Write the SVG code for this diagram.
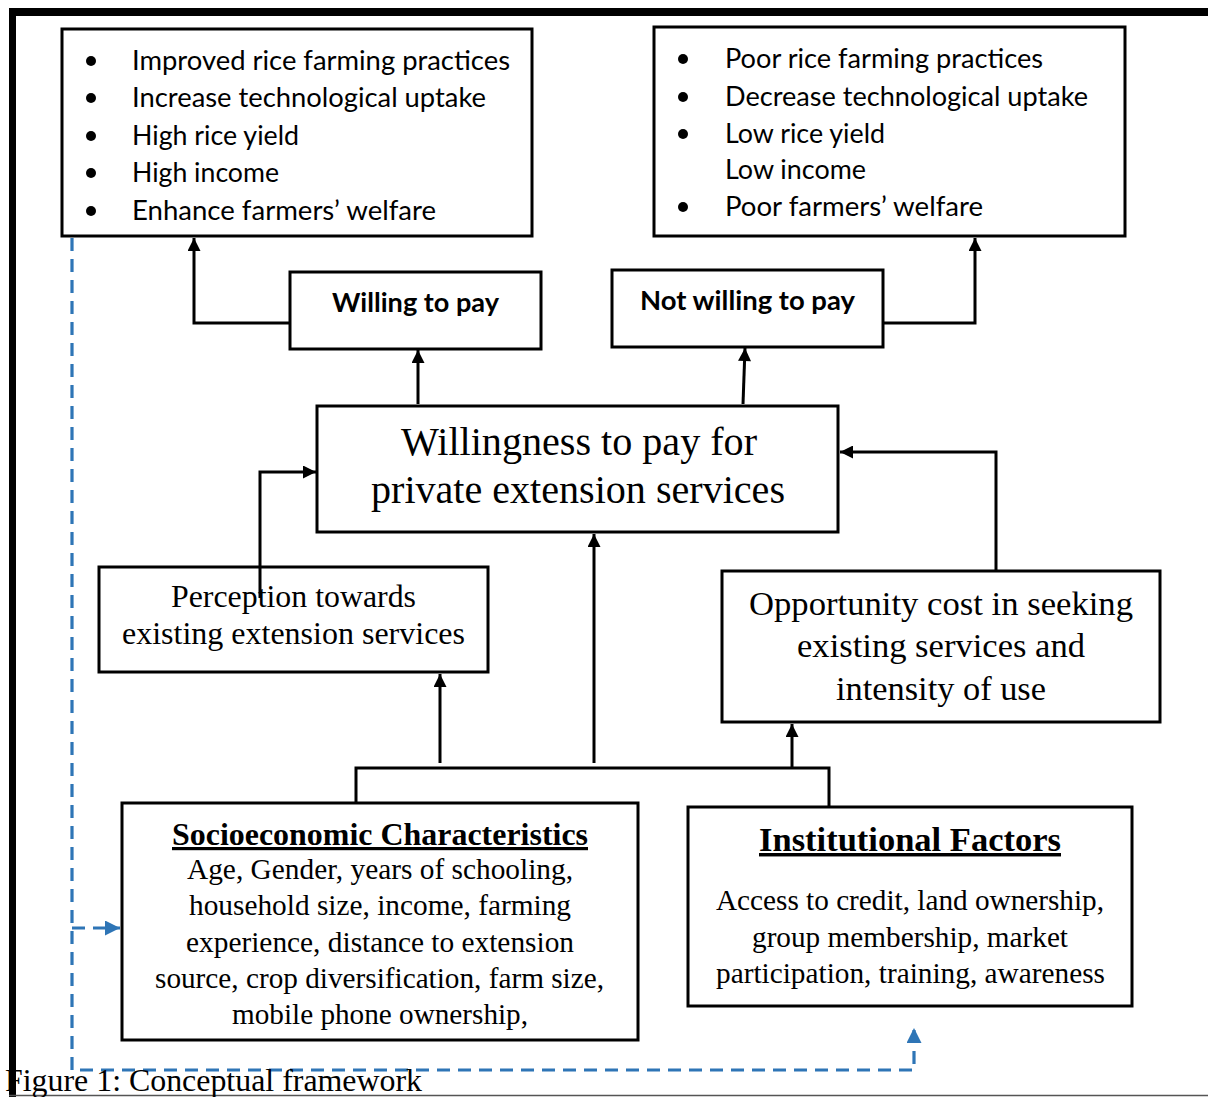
<svg xmlns="http://www.w3.org/2000/svg" width="1208" height="1097" viewBox="0 0 1208 1097">
<style>
.box{fill:#fff;stroke:#000;stroke-width:3}
.sans{font-family:Lato,"Open Sans","Liberation Sans",sans-serif;font-size:27px;fill:#000}
.sb{font-family:Lato,"Open Sans","Liberation Sans",sans-serif;font-size:27px;font-weight:bold;fill:#000}
.serif{font-family:"Liberation Serif","Times New Roman",serif;fill:#000}
.c{text-anchor:middle}
.conn{fill:none;stroke:#000;stroke-width:3}
.dash{fill:none;stroke:#2E75B6;stroke-width:3.2;stroke-dasharray:13 8}
</style>
<defs>
<marker id="ah" viewBox="0 0 10 10" refX="10" refY="5" markerWidth="15" markerHeight="13" markerUnits="userSpaceOnUse" orient="auto"><path d="M0,0 L10,5 L0,10 z" fill="#000"/></marker>
<marker id="bh" viewBox="0 0 10 10" refX="10" refY="5" markerWidth="16" markerHeight="15" markerUnits="userSpaceOnUse" orient="auto"><path d="M0,0 L10,5 L0,10 z" fill="#2E75B6"/></marker>
</defs>
<rect width="1208" height="1097" fill="#fff"/>
<g id="frame">
<rect x="9" y="8" width="1199" height="8" fill="#000"/>
<rect x="9" y="8" width="7" height="1089" fill="#000"/>
<line x1="9" y1="1095.5" x2="1208" y2="1095.5" stroke="#555" stroke-width="1.5"/>
</g>
<g id="outcomes-willing">
<rect class="box" x="62" y="29" width="470" height="207"/>
<circle cx="91" cy="61" r="5"/><circle cx="91" cy="98" r="5"/><circle cx="91" cy="136" r="5"/><circle cx="91" cy="173" r="5"/><circle cx="91" cy="211" r="5"/>
<text class="sans" x="132" y="70" textLength="378" lengthAdjust="spacingAndGlyphs">Improved rice farming practices</text>
<text class="sans" x="132" y="107" textLength="354" lengthAdjust="spacingAndGlyphs">Increase technological uptake</text>
<text class="sans" x="132" y="145" textLength="167" lengthAdjust="spacingAndGlyphs">High rice yield</text>
<text class="sans" x="132" y="182" textLength="147" lengthAdjust="spacingAndGlyphs">High income</text>
<text class="sans" x="132" y="220" textLength="304" lengthAdjust="spacingAndGlyphs">Enhance farmers’ welfare</text>
</g>
<g id="outcomes-not-willing">
<rect class="box" x="654" y="27" width="471" height="209"/>
<circle cx="683" cy="59" r="5"/><circle cx="683" cy="97" r="5"/><circle cx="683" cy="134" r="5"/><circle cx="683" cy="207" r="5"/>
<text class="sans" x="725" y="68" textLength="318" lengthAdjust="spacingAndGlyphs">Poor rice farming practices</text>
<text class="sans" x="725" y="106" textLength="363" lengthAdjust="spacingAndGlyphs">Decrease technological uptake</text>
<text class="sans" x="725" y="143" textLength="160" lengthAdjust="spacingAndGlyphs">Low rice yield</text>
<text class="sans" x="725" y="179" textLength="141" lengthAdjust="spacingAndGlyphs">Low income</text>
<text class="sans" x="725" y="216" textLength="258" lengthAdjust="spacingAndGlyphs">Poor farmers’ welfare</text>
</g>
<g id="willing">
<rect class="box" x="290" y="272" width="251" height="77"/>
<text class="sb c" x="415.5" y="312" textLength="167" lengthAdjust="spacingAndGlyphs">Willing to pay</text>
</g>
<g id="not-willing">
<rect class="box" x="612" y="270" width="271" height="77"/>
<text class="sb c" x="747.5" y="310" textLength="215" lengthAdjust="spacingAndGlyphs">Not willing to pay</text>
</g>
<g id="wtp">
<rect class="box" x="317" y="406" width="521" height="126"/>
<text class="serif c" x="579" y="455" font-size="40" textLength="356" lengthAdjust="spacingAndGlyphs">Willingness to pay for</text>
<text class="serif c" x="578" y="503" font-size="40" textLength="414" lengthAdjust="spacingAndGlyphs">private extension services</text>
</g>
<g id="perception">
<rect class="box" x="99" y="567" width="389" height="105"/>
<text class="serif c" x="293.5" y="607" font-size="31.5" textLength="245" lengthAdjust="spacingAndGlyphs">Perception towards</text>
<text class="serif c" x="293.5" y="644" font-size="31.5" textLength="343" lengthAdjust="spacingAndGlyphs">existing extension services</text>
</g>
<g id="opportunity">
<rect class="box" x="722" y="571" width="438" height="151"/>
<text class="serif c" x="941" y="615" font-size="34.5" textLength="384" lengthAdjust="spacingAndGlyphs">Opportunity cost in seeking</text>
<text class="serif c" x="941" y="657" font-size="34.5" textLength="288" lengthAdjust="spacingAndGlyphs">existing services and</text>
<text class="serif c" x="941" y="700" font-size="34.5" textLength="210" lengthAdjust="spacingAndGlyphs">intensity of use</text>
</g>
<g id="socioeconomic">
<rect class="box" x="122" y="803" width="516" height="237"/>
<text class="serif c" x="380" y="845" font-size="32" font-weight="bold" text-decoration="underline" textLength="416" lengthAdjust="spacingAndGlyphs">Socioeconomic Characteristics</text>
<text class="serif c" x="380" y="879" font-size="29.3" textLength="386" lengthAdjust="spacingAndGlyphs">Age, Gender, years of schooling,</text>
<text class="serif c" x="380" y="915" font-size="29.3" textLength="382" lengthAdjust="spacingAndGlyphs">household size, income, farming</text>
<text class="serif c" x="380" y="952" font-size="29.3" textLength="388" lengthAdjust="spacingAndGlyphs">experience, distance to extension</text>
<text class="serif c" x="379.5" y="988" font-size="29.3" textLength="449" lengthAdjust="spacingAndGlyphs">source, crop diversification, farm size,</text>
<text class="serif c" x="380" y="1024" font-size="29.3" textLength="296" lengthAdjust="spacingAndGlyphs">mobile phone ownership,</text>
</g>
<g id="institutional">
<rect class="box" x="688" y="807" width="444" height="199"/>
<text class="serif c" x="910" y="851" font-size="34.5" font-weight="bold" text-decoration="underline" textLength="302" lengthAdjust="spacingAndGlyphs">Institutional Factors</text>
<text class="serif c" x="910" y="910" font-size="29.3" textLength="388" lengthAdjust="spacingAndGlyphs">Access to credit, land ownership,</text>
<text class="serif c" x="910" y="947" font-size="29.3" textLength="316" lengthAdjust="spacingAndGlyphs">group membership, market</text>
<text class="serif c" x="910.5" y="983" font-size="29.3" textLength="389" lengthAdjust="spacingAndGlyphs">participation, training, awareness</text>
</g>
<g id="connectors">
<path class="conn" d="M290,323 H194 V238" marker-end="url(#ah)"/>
<path class="conn" d="M883,323 H975 V238" marker-end="url(#ah)"/>
<path class="conn" d="M418,404 V350" marker-end="url(#ah)"/>
<path class="conn" d="M743,404 L745,348" marker-end="url(#ah)"/>
<path class="conn" d="M260,598 V472 H316" marker-end="url(#ah)"/>
<path class="conn" d="M996,570 V452 H840" marker-end="url(#ah)"/>
<path class="conn" d="M594,763 V534" marker-end="url(#ah)"/>
<path class="conn" d="M440,763 V674" marker-end="url(#ah)"/>
<path class="conn" d="M792,768 V724" marker-end="url(#ah)"/>
<path class="conn" d="M356,803 V768 H829 V806"/>
<path class="dash" d="M72,238 V1070 H914 V1028" marker-end="url(#bh)"/>
<path class="dash" d="M72,928 H120" marker-end="url(#bh)"/>
</g>
<g id="caption">
<text class="serif" x="5" y="1091" font-size="32" textLength="417" lengthAdjust="spacingAndGlyphs">Figure 1: Conceptual framework</text>
</g>
</svg>
